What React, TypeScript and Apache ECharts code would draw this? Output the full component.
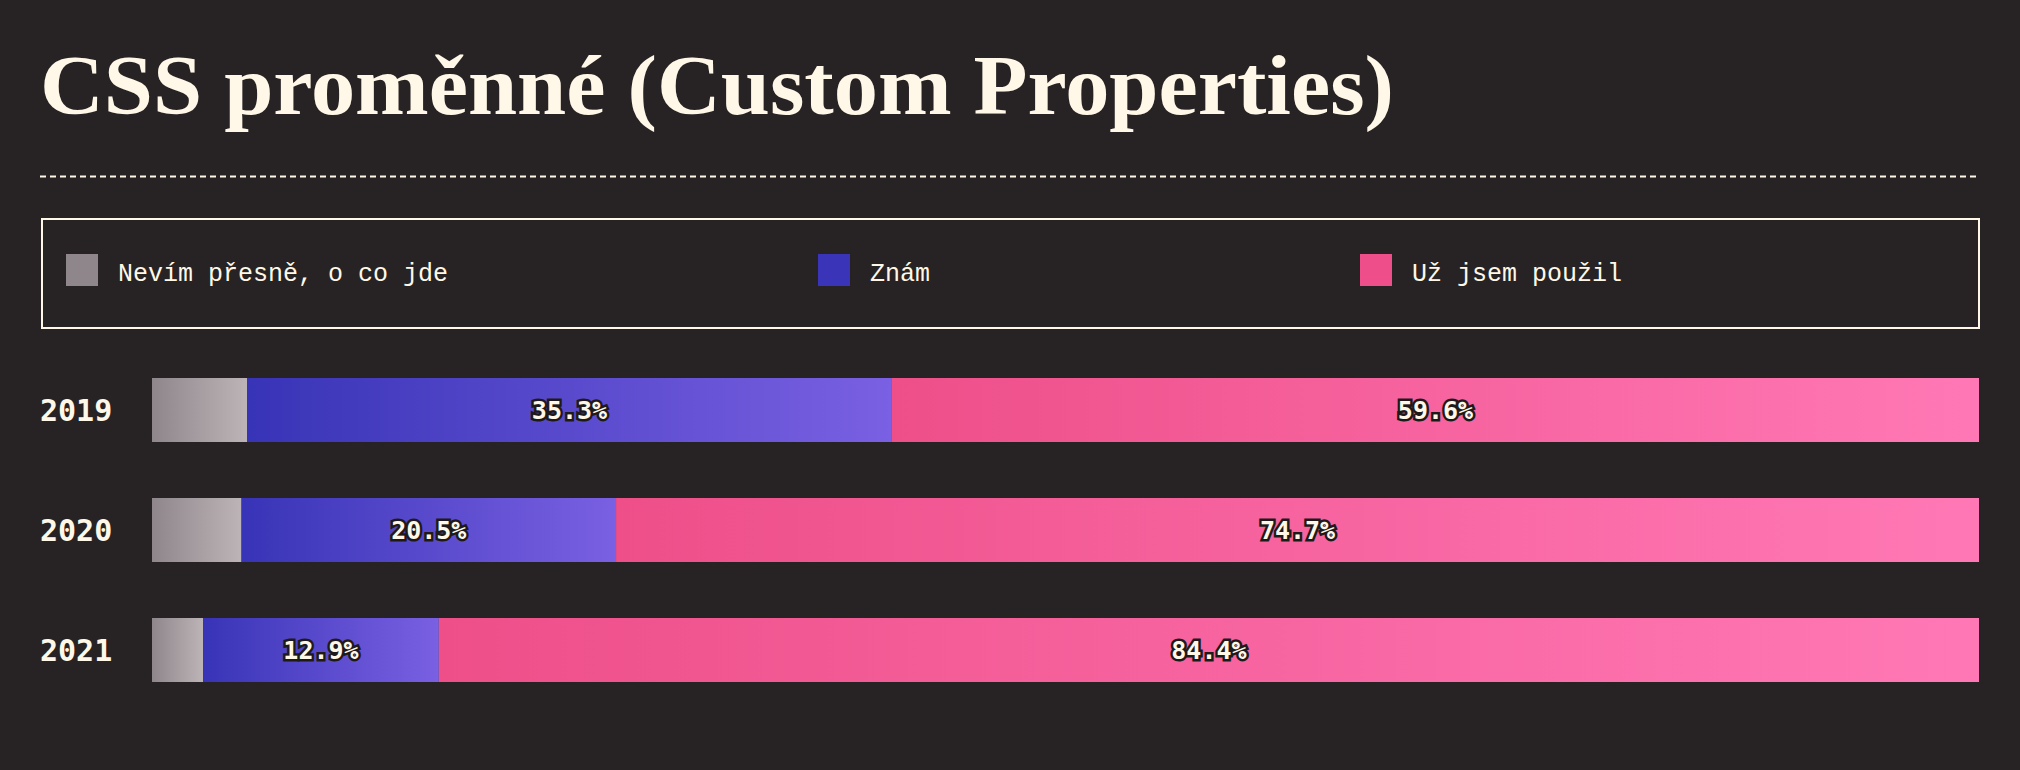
import React, { useEffect, useRef } from "react";
import * as echarts from "echarts";

const years = ["2019", "2020", "2021"];
const seriesNames = ["Nevím přesně, o co jde", "Znám", "Už jsem použil"];
const unsure = [5.2, 4.9, 2.8];
const know = [35.3, 20.5, 12.9];
const used = [59.6, 74.7, 84.4];

const BG = "#272324";
const CREAM = "#fff8e8";
const solid = ["#8e868b", "#3934b8", "#ee4f8a"];

const grad = (a: string, b: string) =>
  new echarts.graphic.LinearGradient(0, 0, 1, 0, [
    { offset: 0, color: a },
    { offset: 1, color: b },
  ]);

export default function App() {
  const ref = useRef<HTMLDivElement>(null);
  useEffect(() => {
    document.body.style.margin = "0";
    document.body.style.background = BG;
    const chart = echarts.init(ref.current!, null, { renderer: "svg" });
    const labelStyle = {
      show: true,
      position: "inside" as const,
      formatter: "{c}%",
      color: CREAM,
      fontFamily: "DejaVu Sans Mono",
      fontWeight: "bold" as const,
      fontSize: 25,
      textBorderColor: "#1e1a1b",
      textBorderWidth: 5,
    };
    const legendCommon = {
      top: 254,
      padding: 0,
      itemWidth: 32,
      itemHeight: 32,
      itemGap: 20,
      icon: "rect",
      formatter: "{t|{name}}",
      textStyle: {
        color: CREAM,
        fontFamily: "Liberation Mono",
        fontSize: 25,
        rich: {
          t: {
            color: CREAM,
            fontFamily: "Liberation Mono",
            fontSize: 25,
            padding: [8, 0, 0, 15],
          },
        },
      },
    };
    chart.setOption({
      animation: false,
      backgroundColor: BG,
      legend: seriesNames.map((n, i) => ({
        ...legendCommon,
        left: [66, 818, 1360][i],
        data: [{ name: n, itemStyle: { color: solid[i] } }],
      })),
      graphic: [
        {
          type: "text",
          x: 40,
          y: 44,
          scaleX: 1.052,
          silent: true,
          style: {
            text: "CSS proměnné (Custom Properties)",
            fill: CREAM,
            fontFamily: "Liberation Serif",
            fontWeight: "bold",
            fontSize: 84,
            verticalAlign: "top",
          },
        },
        {
          type: "line",
          shape: { x1: 40, y1: 176.5, x2: 1980, y2: 176.5 },
          style: { stroke: CREAM, lineWidth: 2, lineDash: [6, 4] },
          silent: true,
        },
        {
          type: "rect",
          shape: { x: 42, y: 219, width: 1937, height: 109 },
          style: { fill: "none", stroke: CREAM, lineWidth: 2 },
          silent: true,
        },
      ],
      grid: { left: 152, right: 41, top: 350, bottom: 60 },
      xAxis: { type: "value", min: 0, max: 100, show: false },
      yAxis: {
        type: "category",
        data: years,
        inverse: true,
        axisLine: { show: false },
        axisTick: { show: false },
        axisLabel: {
          align: "left",
          margin: 112,
          color: CREAM,
          fontFamily: "DejaVu Sans Mono",
          fontWeight: "bold",
          fontSize: 30,
        },
      },
      series: [
        {
          name: seriesNames[0],
          type: "bar",
          stack: "total",
          barWidth: 64,
          data: unsure,
          color: solid[0],
          itemStyle: { color: grad("#8e868b", "#bcb4b6") },
        },
        {
          name: seriesNames[1],
          type: "bar",
          stack: "total",
          barWidth: 64,
          data: know,
          color: solid[1],
          itemStyle: { color: grad("#3834b7", "#7a60e2") },
          label: labelStyle,
        },
        {
          name: seriesNames[2],
          type: "bar",
          stack: "total",
          barWidth: 64,
          data: used,
          color: solid[2],
          itemStyle: { color: grad("#ee4f89", "#ff78b5") },
          label: labelStyle,
        },
      ],
    });
    return () => chart.dispose();
  }, []);
  return (
    <div
      ref={ref}
      style={{ position: "fixed", left: 0, top: 0, width: 2020, height: 770 }}
    />
  );
}
